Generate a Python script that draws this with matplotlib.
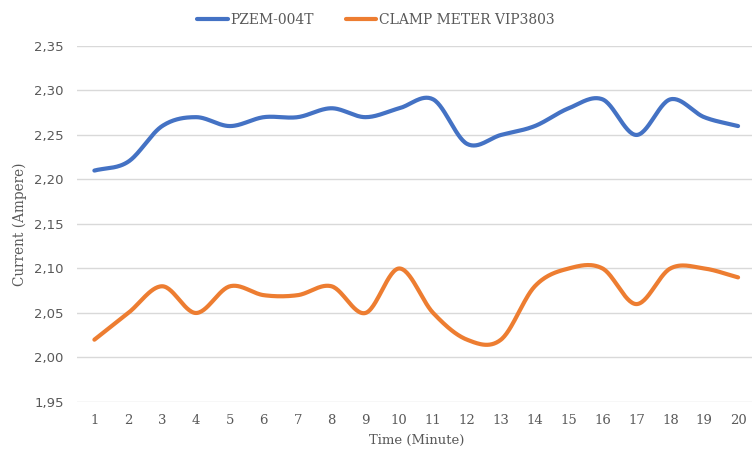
"""Current readings: PZEM-004T vs clamp meter."""

import matplotlib

matplotlib.use("Agg")
import matplotlib.pyplot as plt
import numpy as np
from matplotlib.ticker import FuncFormatter, MultipleLocator

minutes = list(range(1, 21))
pzem_current = [2.21, 2.22, 2.26, 2.27, 2.26, 2.27, 2.27, 2.28, 2.27, 2.28,
                2.29, 2.24, 2.25, 2.26, 2.28, 2.29, 2.25, 2.29, 2.27, 2.26]
clamp_current = [2.02, 2.05, 2.08, 2.05, 2.08, 2.07, 2.07, 2.08, 2.05, 2.10,
                 2.05, 2.02, 2.02, 2.08, 2.10, 2.10, 2.06, 2.10, 2.10, 2.09]
series_labels = ["PZEM-004T", "CLAMP METER VIP3803"]
series_colors = ["#4472C4", "#ED7D31"]


def smooth(x, y, steps=30):
    # Catmull-Rom spline, close to Excel's "smoothed line"
    x = np.asarray(x, float)
    y = np.asarray(y, float)
    px = np.concatenate([[2 * x[0] - x[1]], x, [2 * x[-1] - x[-2]]])
    py = np.concatenate([[2 * y[0] - y[1]], y, [2 * y[-1] - y[-2]]])
    xs, ys = [], []
    t = np.linspace(0, 1, steps, endpoint=False)
    for i in range(1, len(px) - 2):
        for arr, out in ((px, xs), (py, ys)):
            p0, p1, p2, p3 = arr[i - 1], arr[i], arr[i + 1], arr[i + 2]
            out.append(0.5 * (2 * p1 + (-p0 + p2) * t
                              + (2 * p0 - 5 * p1 + 4 * p2 - p3) * t ** 2
                              + (-p0 + 3 * p1 - 3 * p2 + p3) * t ** 3))
    xs.append([x[-1]])
    ys.append([y[-1]])
    return np.concatenate(xs), np.concatenate(ys)


plt.rcParams["font.family"] = ["DejaVu Serif"]
text_color = "#595959"
fs = 9.5

fig = plt.figure(figsize=(7.52, 4.55), dpi=100)
ax = fig.add_axes([0.103, 0.1165, 0.901, 0.7825])

for values, label, color in zip([pzem_current, clamp_current], series_labels, series_colors):
    sx, sy = smooth(minutes, values)
    ax.plot(sx, sy, color=color, linewidth=3.0, label=label, solid_capstyle="round")

ax.set_xlim(0.5, 20.5)
ax.set_ylim(1.95, 2.35)
ax.set_xticks(minutes)
ax.yaxis.set_major_locator(MultipleLocator(0.05))
ax.yaxis.set_major_formatter(FuncFormatter(lambda v, _: f"{v:.2f}".replace(".", ",")))
ax.grid(axis="y", color="#d9d9d9", linewidth=1)
ax.set_axisbelow(True)
for spine in ax.spines.values():
    spine.set_visible(False)
ax.tick_params(length=0, labelsize=fs, colors=text_color)
ax.tick_params(axis="x", pad=9)
ax.tick_params(axis="y", pad=10)
for lbl in ax.get_yticklabels():
    lbl.set_family("DejaVu Sans")

ax.set_xlabel("Time (Minute)", fontsize=fs, color=text_color, labelpad=5)
ax.set_ylabel("Current (Ampere)", fontsize=fs + 0.3, color=text_color, labelpad=5)

fig.legend(loc="upper center", bbox_to_anchor=(0.5, 1.0), ncol=2, frameon=False,
           fontsize=fs + 0.5, labelcolor=text_color, handlelength=2.2, handletextpad=0.2,
           columnspacing=2.3)

fig.savefig("out.png", dpi=100)
plt.close(fig)
